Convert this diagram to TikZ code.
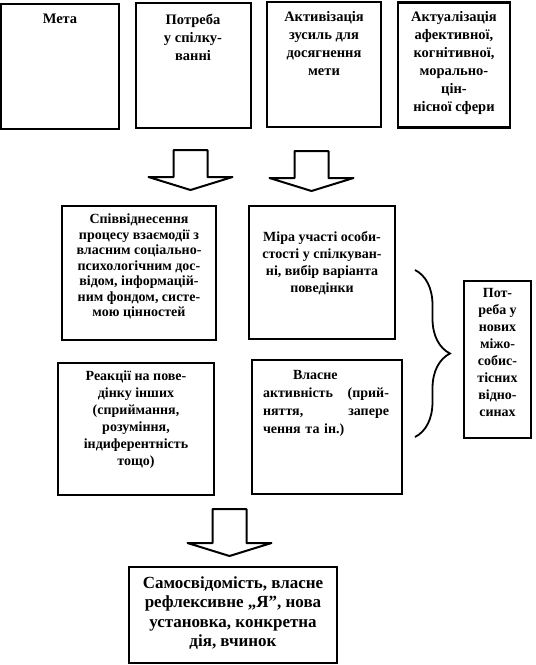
\documentclass[tikz,border=0pt]{standalone}
\usepackage{fontspec}
\setmainfont{Liberation Serif}
\usetikzlibrary{positioning, decorations.pathreplacing}

\begin{document}
\begin{tikzpicture}[x=1pt, y=-1pt,
  box/.style={draw, line width=2pt, inner sep=0pt},
  topbox/.style={box, line width=2.6pt, minimum height=125pt},
  txt/.style={font=\bfseries\fontsize{14}{15.5}\selectfont,
              align=center, anchor=north, inner sep=0pt},
  toptxt/.style={txt, font=\bfseries\fontsize{14.5}{18}\selectfont},
  looptxt/.style={txt, font=\bfseries\fontsize{14}{17}\selectfont},
  bigtxt/.style={txt, font=\bfseries\fontsize{17}{19.5}\selectfont},
  brc/.style={line width=1.8pt, decorate,
              decoration={brace, amplitude=35pt, aspect=0.5}},
  pics/blockarrow/.style={code={
    \draw[line width=2pt, line join=round, fill=white]
      (-17,0) -- (-17,#1) -- (-42,#1) -- (0,#1+13) -- (42,#1)
      -- (17,#1) -- (17,0) -- cycle;}},
]
\useasboundingbox (0,0) rectangle (536,665);

% --- Top row ---
\node[topbox, minimum width=118pt] (meta) at (60,66.5) {};
\node[toptxt] (metaT) at (60,14) {Мета};

\node[topbox, minimum width=115pt] (potr) at (193.5,65.5) {};
\node[toptxt] (potrT) at (193,14) {Потреба\\у спілку-\\ванні};

\node[topbox, minimum width=114pt] (aktyv) at (324,64.5) {};
\node[toptxt] (aktyvT) at (324,11) {Активізація\\зусиль для\\досягнення\\мети};

\node[topbox, minimum width=112pt] (aktual) at (454,65) {};
\node[toptxt] (aktualT) at (454,11) {Актуалізація\\афективної,\\когнітивної,\\морально-\\цін-\\нісної сфери};

% --- Arrows down ---
\pic at (190.5,150) {blockarrow=27};
\pic at (311.5,151) {blockarrow=27};

% --- Middle block ---
\node[box, minimum width=154pt, minimum height=134pt] (spivv) at (139,273) {};
\node[txt] (spivvT) at (139,214) {Співвіднесення\\процесу взаємодії з\\власним соціально-\\психологічним дос-\\відом, інформацій-\\ним фондом, систе-\\мою цінностей};

\node[box, minimum width=146pt, minimum height=133pt] (mira) at (322,272.5) {};
\node[looptxt] (miraT) at (322,231) {Міра участі особи-\\стості у спілкуван-\\ні, вибір варіанта\\поведінки};

\node[box, minimum width=156pt, minimum height=132pt] (reakc) at (136,429) {};
\node[looptxt] (reakcT) at (136,371) {Реакції на пове-\\дінку інших\\(сприймання,\\розуміння,\\індиферентність\\тощо)};

\node[box, minimum width=150pt, minimum height=134pt] (vlasn) at (327,427) {};
\node[txt, font=\bfseries\fontsize{14}{18}\selectfont, text width=126pt,
      align=left] (vlasnT) at (326,370)
  {\hspace*{30pt}Власне\\активність\hfill(прий-\\няття,\hfill запере\\чення та ін.)};

% --- Brace and right box ---
\coordinate (brTop) at (415,270);
\coordinate (brBot) at (415,437);
\draw[brc] (brTop) -- (brBot);

\node[box, line width=2.4pt, minimum width=67pt, minimum height=157pt] (nova) at (497.5,359.5) {};
\node[looptxt] (novaT) at (497.5,288) {Пот-\\реба у\\нових\\міжо-\\собис-\\тісних\\відно-\\синах};

% --- Result ---
\pic at (229.5,509) {blockarrow=34};

\node[box, minimum width=208pt, minimum height=96pt] (samo) at (233,615) {};
\node[bigtxt] (samoT) at (233,576) {Самосвідомість, власне\\рефлексивне „Я”, нова\\установка, конкретна\\дія, вчинок};

\end{tikzpicture}
\end{document}
